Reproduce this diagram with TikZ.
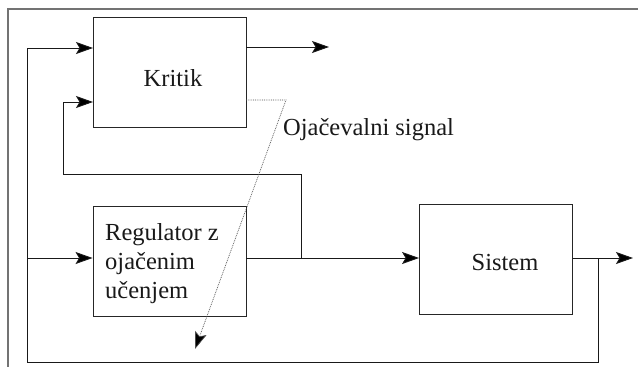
\documentclass[tikz,border=0pt]{standalone}
\usepackage{fontspec}
\setmainfont{Liberation Serif}
\usetikzlibrary{arrows.meta}
\begin{document}
\begin{tikzpicture}[x=1pt,y=-1pt,
  box/.style={draw=black!85,line width=0.9pt,minimum width=153pt,minimum height=110pt,inner sep=0pt},
  txt/.style={font=\fontsize{24.5}{29}\selectfont,text=black!90,inner sep=0pt},
  ln/.style={draw=black!90,line width=0.9pt},
  arr/.style={ln,-{Stealth[length=17pt,width=12pt,inset=3.5pt,fill=black]}},
  frame/.style={draw=black!55,line width=1.1pt},
  dot/.style={draw=black!70,line width=0.7pt,dash pattern=on 0.8pt off 1pt,-{Stealth[length=17pt,width=12pt,inset=3.5pt,fill=black]}}]
\useasboundingbox (0,0) rectangle (638,367);
% frame
\draw[frame] (638,9) -- (8,9) -- (8,367);
% boxes
\node[box] (k) at (169.5,72.5) {};
\node[box] (r) at (169.5,261) {};
\node[box] (s) at (496,259) {};
% texts
\node[txt,anchor=base] (kt) at (173,86) {Kritik};
\node[txt,anchor=base] (st) at (505,270) {Sistem};
\node[txt,anchor=base west] (rt1) at (105,240) {Regulator z};
\node[txt,anchor=base west] (rt2) at (105,269) {oja\v{c}enim};
\node[txt,anchor=base west] (rt3) at (105,298) {u\v{c}enjem};
\node[txt,anchor=base west] (lab) at (283,135) {Oja\v{c}evalni signal};
% coordinates
\coordinate (kin1) at (93,48);
\coordinate (kin2) at (93,102);
\coordinate (kout1) at (246,47);
\coordinate (ktip) at (329,47);
\coordinate (kout2) at (246,100);
\coordinate (dbend) at (286,100);
\coordinate (dtip) at (195,349);
\coordinate (m) at (301,258);
\coordinate (fb) at (301,174);
\coordinate (fbl) at (63,174);
\coordinate (tap) at (598,258);
\coordinate (out) at (633,258);
\coordinate (bl) at (27,362);
\coordinate (rin) at (27,258);
% connectors
\draw[arr] (kout1) -- (ktip);
\draw[arr] (r.east |- m) -- (s.west |- m);
\draw[arr] (s.east |- tap) -- (out);
\draw[arr] (tap) |- (bl) |- (kin1);
\draw[arr] (rin) -- (r.west |- rin);
\draw[arr] (m) |- (fbl) |- (kin2);
\draw[dot] (kout2) -- (dbend) -- (dtip);
\end{tikzpicture}
\end{document}
